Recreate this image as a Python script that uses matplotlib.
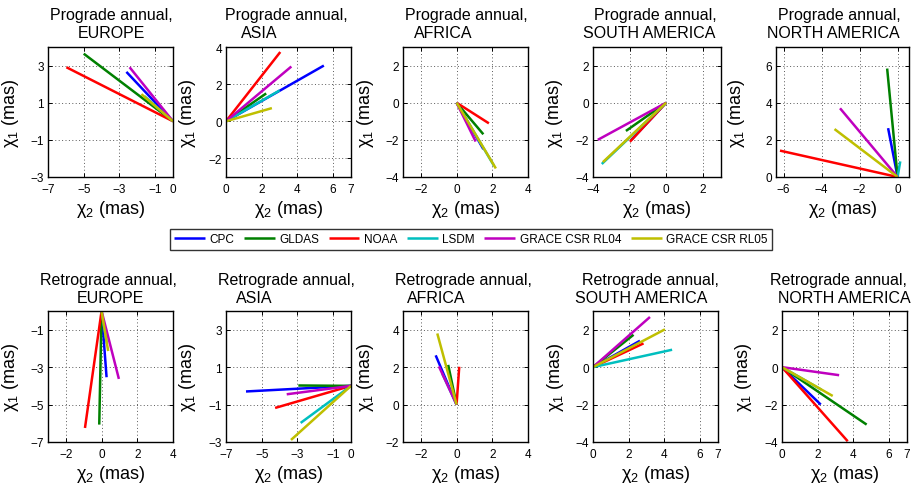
import matplotlib
matplotlib.use('Agg')
import matplotlib.pyplot as plt

plt.rcParams['font.family'] = ['Liberation Sans', 'DejaVu Sans']
plt.rcParams['mathtext.fontset'] = 'custom'
plt.rcParams['mathtext.rm'] = 'Liberation Sans'
plt.rcParams['mathtext.it'] = 'Liberation Sans'

# ---------------- data ----------------
series = ['CPC', 'GLDAS', 'NOAA', 'LSDM', 'GRACE CSR RL04', 'GRACE CSR RL05']
colors = [(0, 0, 1), (0, 0.5, 0), (1, 0, 0), (0, 0.75, 0.75), (0.75, 0, 0.75), (0.75, 0.75, 0)]
regions = ['EUROPE', 'ASIA', 'AFRICA', 'SOUTH AMERICA', 'NORTH AMERICA']

# prograde annual: chi2 (x) and chi1 (y) end points, order as in `series`
pro_eu_x = [-2.61, -5.00, -5.97, -1.60, -2.43, -1.77]
pro_eu_y = [2.66, 3.64, 2.91, 1.35, 2.91, 1.46]
pro_as_x = [5.48, 2.25, 3.04, 3.00, 3.66, 2.57]
pro_as_y = [3.00, 1.50, 3.73, 1.66, 2.95, 0.71]
pro_af_x = [1.50, 1.50, 1.81, 2.10, 1.07, 2.20]
pro_af_y = [-2.50, -1.70, -1.11, -3.40, -2.09, -3.54]
pro_sa_x = [-1.90, -2.20, -1.98, -3.52, -3.74, -3.46]
pro_sa_y = [-2.00, -1.52, -2.10, -3.30, -2.00, -3.20]
pro_na_x = [-0.50, -0.55, -6.19, 0.14, -3.03, -3.32]
pro_na_y = [2.63, 5.84, 1.42, 0.84, 3.70, 2.58]

# retrograde annual
ret_eu_x = [0.28, -0.13, -0.93, 0.30, 0.97, 0.37]
ret_eu_y = [-3.54, -6.07, -6.25, -1.75, -3.63, -2.14]
ret_as_x = [-5.88, -2.95, -4.25, -2.82, -3.60, -3.36]
ret_as_y = [-0.30, 0.02, -1.18, -1.98, -0.45, -2.89]
ret_af_x = [-1.17, -0.47, 0.15, -0.80, -0.99, -1.08]
ret_af_y = [2.63, 2.12, 2.02, 1.65, 2.04, 3.80]
ret_sa_x = [2.63, 2.27, 2.83, 4.43, 3.19, 4.03]
ret_sa_y = [1.41, 1.73, 1.27, 0.93, 2.68, 2.02]
ret_na_x = [2.17, 4.74, 3.68, 2.20, 3.20, 2.84]
ret_na_y = [-2.00, -3.07, -3.96, -1.20, -0.43, -1.54]

# axis limits / ticks
pro_xlim = [(-7, 0), (0, 7), (-3, 4), (-4, 3), (-6.4, 0.6)]
pro_ylim = [(-3, 4), (-3, 4), (-4, 3), (-4, 3), (0, 7)]
pro_xticks = [[-7, -5, -3, -1, 0], [0, 2, 4, 6, 7], [-2, 0, 2, 4], [-4, -2, 0, 2], [-6, -4, -2, 0]]
pro_yticks = [[-3, -1, 1, 3], [-2, 0, 2, 4], [-4, -2, 0, 2], [-4, -2, 0, 2], [0, 2, 4, 6]]
ret_xlim = [(-3, 4), (-7, 0), (-3, 4), (0, 7), (0, 7)]
ret_ylim = [(-7, 0), (-3, 4), (-2, 5), (-4, 3), (-4, 3)]
ret_xticks = [[-2, 0, 2, 4], [-7, -5, -3, -1, 0], [-2, 0, 2, 4], [0, 2, 4, 6, 7], [0, 2, 4, 6, 7]]
ret_yticks = [[-7, -5, -3, -1], [-3, -1, 1, 3], [-2, 0, 2, 4], [-4, -2, 0, 2], [-4, -2, 0, 2]]

pro_data = [(pro_eu_x, pro_eu_y), (pro_as_x, pro_as_y), (pro_af_x, pro_af_y),
            (pro_sa_x, pro_sa_y), (pro_na_x, pro_na_y)]
ret_data = [(ret_eu_x, ret_eu_y), (ret_as_x, ret_as_y), (ret_af_x, ret_af_y),
            (ret_sa_x, ret_sa_y), (ret_na_x, ret_na_y)]

# ---------------- layout (pixels) ----------------
W, H = 919, 485
fig = plt.figure(figsize=(W / 100, H / 100), dpi=100)

cols_lr = [(48, 173), (226, 351), (403, 528), (593, 721), (776, 909)]
cols_lr2 = [(48, 173), (226, 351), (403, 528), (593, 718), (782, 907)]
rows_tb = [(48, 178), (312, 443)]
title1_cx = [[111.5, 286, 466, 655, 839], [108.5, 286, 463.5, 650, 838.5]]
title2_cx = [[111.5, 259.5, 443, 649, 833], [110.5, 254.5, 436.5, 641.5, 844]]


def px_axes(l, t, r, b):
    return fig.add_axes([l / W, 1 - b / H, (r - l) / W, (b - t) / H])


handles = None
for row in range(2):
    data = pro_data if row == 0 else ret_data
    xlims = pro_xlim if row == 0 else ret_xlim
    ylims = pro_ylim if row == 0 else ret_ylim
    xts = pro_xticks if row == 0 else ret_xticks
    yts = pro_yticks if row == 0 else ret_yticks
    lr = cols_lr if row == 0 else cols_lr2
    head = 'Prograde annual,' if row == 0 else 'Retrograde annual,'
    t, b = rows_tb[row]
    for c in range(5):
        l, r = lr[c]
        ax = px_axes(l, t, r, b)
        xs, ys = data[c]
        hs = []
        for i in range(len(series)):
            h, = ax.plot([0, xs[i]], [0, ys[i]], color=colors[i], lw=1.8,
                         solid_capstyle='butt', label=series[i])
            hs.append(h)
        if handles is None:
            handles = hs
        ax.set_xlim(*xlims[c])
        ax.set_ylim(*ylims[c])
        ax.set_xticks(xts[c])
        ax.set_yticks(yts[c])
        ax.grid(True, linestyle=(0, (1, 2.5)), color='0.35', lw=0.7)
        ax.tick_params(direction='in', length=3, width=0.7, top=True, right=True,
                       labelsize=8.5, colors='black')
        ax.tick_params(axis='x', pad=4)
        ax.tick_params(axis='y', pad=3)
        for sp in ax.spines.values():
            sp.set_linewidth(1.0)
        ax.set_xlabel('χ$_2$ (mas)', fontsize=13)
        ax.set_ylabel('χ$_1$ (mas)', fontsize=13)
        ax.xaxis.set_label_coords(0.5, -0.16)
        ax.yaxis.set_label_coords(-0.22, 0.5)
        # two-line title
        base1 = 20 if row == 0 else 285
        base2 = 38 if row == 0 else 303
        fig.text(title1_cx[row][c] / W, 1 - base1 / H, head, ha='center',
                 va='baseline', fontsize=11.5)
        fig.text(title2_cx[row][c] / W, 1 - base2 / H, regions[c], ha='center',
                 va='baseline', fontsize=11.5)

leg = fig.legend(handles, series, loc='center', bbox_to_anchor=(471 / W, 1 - 240.5 / H),
                 ncol=6, frameon=True, fancybox=False, fontsize=8.5,
                 handlelength=2.6, columnspacing=0.8, handletextpad=0.4,
                 borderpad=0.4, borderaxespad=0)
leg.get_frame().set_edgecolor('black')
leg.get_frame().set_linewidth(1.0)

fig.savefig('out.png', dpi=100)
